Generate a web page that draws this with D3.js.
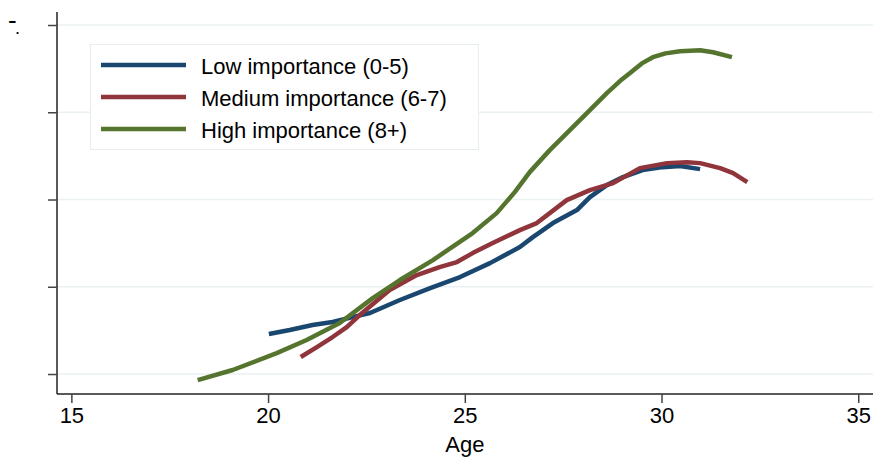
<!DOCTYPE html>
<html>
<head>
<meta charset="utf-8">
<script src="https://cdn.jsdelivr.net/npm/d3@7"></script>
<style>
  body { margin: 0; background: #fff; }
  svg { display: block; font-family: "Liberation Sans", Arial, sans-serif; }
  .grid line { stroke: #eaf1f2; stroke-width: 1.5; }
</style>
</head>
<body>
<svg class="root"></svg>
<script>
var seriesNames = ["Low importance (0-5)", "Medium importance (6-7)", "High importance (8+)"];
var seriesColors = ["#1a476f", "#90353b", "#55752f"];

var xTicks = [15, 20, 25, 30, 35];
var yTicks = [0, 1, 2, 3, 4];

// age, value
var lowAge = [20.02, 20.55, 21.13, 21.64, 22.25, 22.59, 23.35, 24.12, 24.88, 25.64, 26.40, 26.73, 27.24, 27.85, 28.18, 28.61, 29.02, 29.52, 30.03, 30.47, 30.98];
var lowVal = [0.458, 0.504, 0.561, 0.596, 0.664, 0.699, 0.848, 0.985, 1.111, 1.271, 1.455, 1.569, 1.730, 1.879, 2.027, 2.165, 2.257, 2.337, 2.371, 2.383, 2.348];

var medAge = [20.83, 21.24, 21.64, 22.00, 22.33, 23.09, 23.78, 24.36, 24.80, 25.20, 25.71, 26.40, 26.83, 27.59, 28.18, 28.77, 29.45, 30.14, 30.65, 30.98, 31.49, 31.82, 32.18];
var medVal = [0.195, 0.309, 0.424, 0.538, 0.676, 0.962, 1.134, 1.226, 1.283, 1.386, 1.501, 1.649, 1.730, 1.993, 2.108, 2.188, 2.360, 2.417, 2.428, 2.417, 2.360, 2.302, 2.199];

var highAge = [18.21, 19.10, 20.22, 20.98, 21.82, 22.66, 23.35, 24.19, 25.20, 25.81, 26.27, 26.65, 27.16, 27.67, 28.18, 28.61, 28.95, 29.20, 29.50, 29.78, 30.10, 30.47, 30.98, 31.31, 31.79];
var highVal = [-0.069, 0.046, 0.24, 0.39, 0.584, 0.87, 1.077, 1.306, 1.615, 1.844, 2.085, 2.314, 2.566, 2.795, 3.024, 3.219, 3.36, 3.45, 3.56, 3.631, 3.675, 3.70, 3.711, 3.688, 3.631];

var W = 883, H = 462;
var mLeft = 57, mRight = 873, mTop = 12, mBottom = 394;

var svg = d3.select(".root").attr("width", W).attr("height", H);

var x = d3.scaleLinear().domain([14.635, 35.375]).range([mLeft, mRight]);
var y = d3.scaleLinear().domain([-0.229, 4.149]).range([mBottom, mTop]);

// gridlines
svg.append("g").attr("class", "grid")
  .selectAll("line").data(yTicks).enter().append("line")
    .attr("x1", mLeft).attr("x2", mRight)
    .attr("y1", function(d) { return y(d); }).attr("y2", function(d) { return y(d); });

// y axis (no labels)
var yAxis = d3.axisLeft(y).tickValues(yTicks).tickSize(9).tickFormat("");
var gy = svg.append("g").attr("transform", "translate(" + mLeft + ",0)").call(yAxis);
gy.select(".domain").attr("stroke", "#222").attr("stroke-width", 1.5).attr("d", "M0," + mTop + "V" + mBottom);
gy.selectAll(".tick line").attr("stroke", "#444").attr("stroke-width", 1.5);

// x axis
var xAxis = d3.axisBottom(x).tickValues(xTicks).tickSize(9).tickPadding(4);
var gx = svg.append("g").attr("transform", "translate(0," + mBottom + ")").call(xAxis);
gx.select(".domain").attr("stroke", "#222").attr("stroke-width", 1.5).attr("d", "M" + mLeft + ",0H" + mRight);
gx.selectAll(".tick line").attr("stroke", "#444").attr("stroke-width", 1.5);
gx.selectAll(".tick text").attr("font-size", 22).attr("fill", "#000")
  .attr("font-family", "Liberation Sans, Arial, sans-serif");

svg.append("text").attr("x", x(25)).attr("y", 452)
  .attr("text-anchor", "middle").attr("font-size", 22).text("Age");

// stray y title glyphs at top-left
svg.append("text").attr("x", 8).attr("y", 29).attr("font-size", 26).text("-");
svg.append("text").attr("x", 15).attr("y", 34).attr("font-size", 18).text(".");

// lines
var series = [
  d3.zip(lowAge, lowVal),
  d3.zip(medAge, medVal),
  d3.zip(highAge, highVal)
];
var line = d3.line()
  .x(function(d) { return x(d[0]); })
  .y(function(d) { return y(d[1]); });

svg.selectAll(".series").data(series).enter().append("path")
  .attr("class", "series")
  .attr("d", line)
  .attr("fill", "none")
  .attr("stroke", function(d, i) { return seriesColors[i]; })
  .attr("stroke-width", 4.5)
  .attr("stroke-linejoin", "round");

// legend
var lg = svg.append("g");
lg.append("rect").attr("x", 90.5).attr("y", 44.5).attr("width", 388).attr("height", 105)
  .attr("fill", "#fff").attr("stroke", "#e6eeee").attr("stroke-width", 1);
seriesNames.forEach(function(name, i) {
  var yy = 65 + i * 32;
  lg.append("line").attr("x1", 101).attr("x2", 186).attr("y1", yy).attr("y2", yy)
    .attr("stroke", seriesColors[i]).attr("stroke-width", 4.5);
  lg.append("text").attr("x", 201).attr("y", yy + 8.5).attr("font-size", 22).text(name);
});
</script>
</body>
</html>
